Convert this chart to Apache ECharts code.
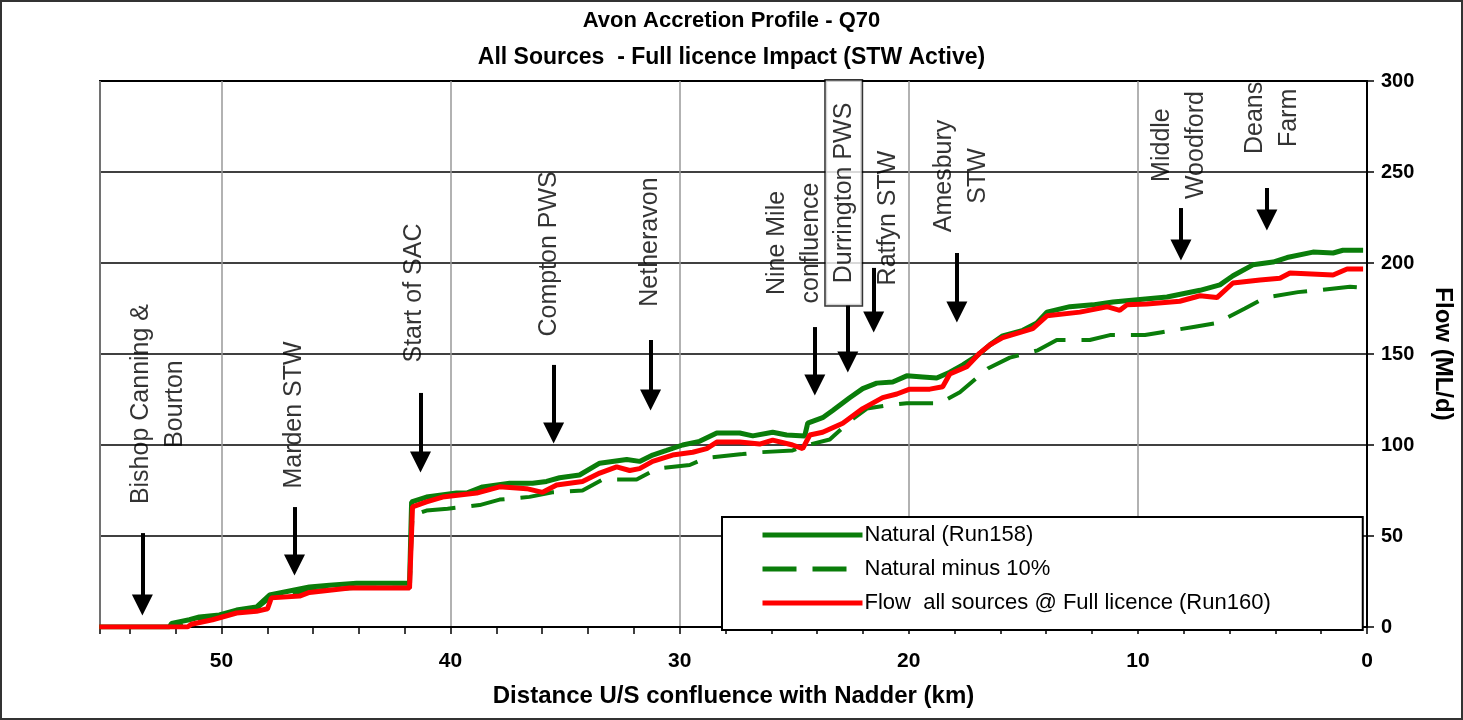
<!DOCTYPE html>
<html>
<head>
<meta charset="utf-8">
<script src="https://cdn.jsdelivr.net/npm/echarts@6/dist/echarts.min.js"></script>
<style>
html,body{margin:0;padding:0;background:#fff;}
#chart{width:1463px;height:720px;}
</style>
</head>
<body>
<div id="chart"></div>
<script>
// ---- Data (distance km upstream of Nadder confluence, flow ML/d) ----
const naturalKm = [55.33,52.27,52.18,51.40,50.96,50.09,49.34,48.47,47.90,46.16,45.28,44.10,41.79,41.70,41.05,39.74,39.30,38.60,37.42,36.42,35.81,35.24,34.37,33.49,32.31,31.75,31.18,30.57,29.87,29.13,28.38,27.38,26.81,25.94,25.33,24.54,24.41,23.76,23.32,22.58,22.01,21.40,20.70,20.09,19.39,18.78,18.21,17.64,17.03,16.46,15.90,15.02,14.41,13.97,12.97,11.97,11.09,9.91,8.73,7.29,6.42,5.85,4.98,4.10,3.49,2.36,1.48,1.05,0.17];
const naturalFlow = [0,0,2,4,5.5,6.6,9.3,11,17.6,22,23,24,24,68.7,71.4,73.6,73.6,77,79,79,80,82,83.5,90,92,91,94.5,97,100,102,106.6,106.6,105,107,105.5,105,112,115,119,126,131,134,134.6,138,137.4,136.8,140,144,149,155,160,163,167,173,176,177,178.6,180,181.3,185,188,193,199,200.5,203,206,205.5,207,207];

const minus10Km = [55.33,52.05,51.40,50.09,49.34,48.47,47.90,46.16,44.10,41.79,41.66,41.35,41.05,40.13,38.73,37.86,36.55,35.55,34.24,33.36,31.88,31.00,29.56,28.82,27.25,26.51,25.07,24.41,23.45,22.58,21.83,20.83,20.09,18.65,17.77,16.55,15.59,14.37,13.54,12.10,11.22,9.69,8.95,7.51,6.55,5.33,4.45,3.01,2.18,0.74,0.17];
const minus10Flow = [0,0,3.5,6,8.4,10,15.8,19.8,21.6,21.6,61.8,62.6,64,65,67,70,71.5,74,75,81,81,87,89,93,95,96,97,100,103,113,120,122,123,123,129,142,148,152,157.7,157.7,160.4,160.4,162,165,167,175,181,184,185,187,186.5];

const licenceKm = [55.33,51.48,51.31,50.39,49.34,48.47,47.99,47.82,46.59,46.16,44.41,41.79,41.66,41.05,40.35,38.86,37.86,36.68,35.98,35.37,34.24,33.49,32.75,32.18,31.75,31.18,30.31,29.43,28.82,28.38,27.38,26.51,25.94,25.07,24.63,24.32,23.76,22.88,22.01,21.14,20.52,19.96,19.08,18.52,18.21,17.47,16.90,16.46,15.90,14.59,13.97,12.53,11.35,10.79,10.48,9.61,8.17,7.29,6.55,5.85,4.67,3.80,3.36,1.48,0.87,0.17];
const licenceFlow = [0,0,1.5,4,7.7,8.6,10,16,17,19,21.4,21.4,66,68.7,71.4,73.6,77,76,74,78,80,84.6,88,86,87,91,94.5,96,98,101.6,101.6,100.5,102.7,100,98,105.5,107,112,120,126,128,130.7,130.7,132,139,143,150.5,155,159,164,171,173,176,174,177,177.5,179,182,181,189,190.7,191.6,194.5,193.4,196.7,196.7];

// Annotated sites
const siteLabels = ['Bishop Canning &\nBourton','Marden STW','Start of SAC','Compton PWS','Netheravon','Nine Mile\nconfluence','Durrington PWS','Ratfyn STW','Amesbury\nSTW','Middle\nWoodford','Deans\nFarm'];
const labelKm   = [52.77,46.81,41.57,35.68,31.31,25.0,22.84,20.92,17.71,8.19,4.15];
const labelFlow = [122.5,116.5,183.5,205,211.5,211,238.5,224.7,247.8,264.8,279.7];
const arrowKm    = [53.45,46.81,41.31,35.50,31.27,24.10,22.66,21.53,17.90,8.12,4.37];
const arrowStart = [51.6,65.9,128.6,144.0,157.7,164.8,176.9,197.3,205.5,230.2,241.2];
const arrowEnd   = [12.1,34.1,90.7,106.6,124.7,133,145.6,167.6,173.1,207.1,223.6];

const xTicks = [0,10,20,30,40,50];

const titleLines = ['Avon Accretion Profile - Q70','All Sources  - Full licence Impact (STW Active)'];
const seriesNames = ['Natural (Run158)','Natural minus 10%','Flow  all sources @ Full licence (Run160)'];

// ---- Build ----
const zip = (a,b) => a.map((v,i)=>[v,b[i]]);
const FONT = "'Liberation Sans', Arial, sans-serif";

const labelData = siteLabels.map((t,i)=>{
  const item = {value:[labelKm[i],labelFlow[i]], name:t};
  if (t === 'Durrington PWS') {
    item.label = {backgroundColor:'#fff', borderColor:'#000', borderWidth:1.5, padding:[3,22,3,22], lineHeight:30};
  }
  return item;
});
const arrowData = arrowKm.map((k,i)=>[{coord:[k,arrowStart[i]]},{coord:[k,arrowEnd[i]]}]);

const chart = echarts.init(document.getElementById('chart'), null, {renderer:'canvas'});
chart.setOption({
  animation:false,
  backgroundColor:'#fff',
  textStyle:{fontFamily:FONT},
  title:{
    text:'{a|' + titleLines[0] + '}\n{b|' + titleLines[1] + '}',
    left:'center', top:2, padding:0,
    textStyle:{fontFamily:FONT, fontWeight:'bold', fontSize:22, lineHeight:37, color:'#000',
      rich:{
        a:{fontFamily:FONT, fontWeight:'bold', fontSize:22, lineHeight:37, color:'#000'},
        b:{fontFamily:FONT, fontWeight:'bold', fontSize:23, lineHeight:37, color:'#000'}
      }}
  },
  graphic:[{type:'rect', silent:true, z:-1, shape:{x:1,y:1,width:1461,height:718}, style:{fill:'none', stroke:'#333', lineWidth:2}}],
  grid:{left:100, right:96, top:81, bottom:93, show:true, borderColor:'#000', borderWidth:2, backgroundColor:'transparent'},
  legend:{
    data:seriesNames, orient:'vertical', left:722, top:517,
    itemWidth:100, itemHeight:14, itemGap:12,
    backgroundColor:'#fff', borderColor:'#000', borderWidth:2,
    padding:[7,92,16,38],
    textStyle:{fontFamily:FONT, fontSize:22, color:'#000', padding:[0,0,0,-3]},
    itemStyle:{color:'rgba(0,0,0,0)', borderWidth:0, opacity:0},
    lineStyle:{width:5}
  },
  xAxis:[{
    type:'value', inverse:true, min:0, max:55.3, interval:10,
    name:'Distance U/S confluence with Nadder (km)', nameLocation:'middle', nameGap:57,
    nameTextStyle:{fontFamily:FONT, fontWeight:'bold', fontSize:24, color:'#000'},
    axisLine:{show:true, lineStyle:{color:'#000', width:2}},
    axisTick:{show:false},
    axisLabel:{fontFamily:FONT, fontWeight:'bold', fontSize:21, color:'#000', margin:24,
      formatter:v => xTicks.indexOf(v) >= 0 ? String(v) : ''},
    splitLine:{show:true, lineStyle:{color:'#999', width:1.5}}
  },{
    type:'value', inverse:true, min:0, max:55.3, interval:2, position:'bottom',
    axisLine:{show:false}, axisLabel:{show:false}, splitLine:{show:false},
    axisTick:{show:true, length:7, inside:false, lineStyle:{color:'#000', width:1.5}}
  }],
  yAxis:{
    type:'value', position:'right', min:0, max:300, interval:50,
    name:'Flow (ML/d)', nameLocation:'middle', nameRotate:-90, nameGap:64,
    nameTextStyle:{fontFamily:FONT, fontWeight:'bold', fontSize:24, color:'#000'},
    axisLine:{show:true, lineStyle:{color:'#000', width:2}},
    axisTick:{show:true, length:7, inside:false, lineStyle:{color:'#000', width:1.5}},
    axisLabel:{fontFamily:FONT, fontWeight:'bold', fontSize:20, color:'#000', margin:14},
    splitLine:{show:true, lineStyle:{color:'#000', width:1.5}}
  },
  series:[
    {name:seriesNames[1], type:'line', data:zip(minus10Km,minus10Flow), symbol:'none', z:2,
      lineStyle:{color:'#0a7d0a', width:4, type:[34,16]}, itemStyle:{color:'#0a7d0a'}},
    {name:seriesNames[0], type:'line', data:zip(naturalKm,naturalFlow), symbol:'none', z:3,
      lineStyle:{color:'#0a7d0a', width:5}, itemStyle:{color:'#0a7d0a'}},
    {name:seriesNames[2], type:'line', data:zip(licenceKm,licenceFlow), symbol:'none', z:4,
      lineStyle:{color:'#ff0000', width:5}, itemStyle:{color:'#ff0000'}},
    {name:'sites', type:'scatter', data:labelData, symbolSize:0, z:6, silent:true,
      label:{show:true, position:'inside', rotate:90, formatter:p=>p.name,
        fontFamily:FONT, fontSize:25, lineHeight:34, color:'#000', align:'center', verticalAlign:'middle'},
      markLine:{silent:true, symbol:['none','triangle'], symbolSize:21, animation:false,
        label:{show:false}, lineStyle:{color:'#000', width:4, type:'solid'}, data:arrowData}
    }
  ]
});
</script>
</body>
</html>
